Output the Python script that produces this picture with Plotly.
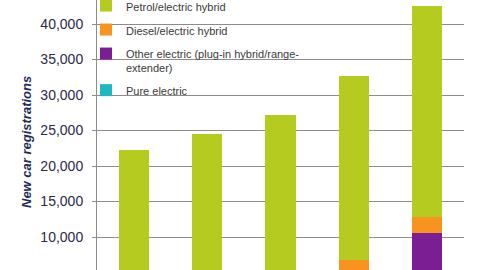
import plotly.graph_objects as go

years = ["2010", "2011", "2012", "2013", "2014"]
pure_electric = [100, 1000, 1200, 2500, 4000]
other_electric = [50, 200, 700, 1300, 6500]
diesel_hybrid = [0, 0, 400, 3000, 2300]
petrol_hybrid = [22150, 23300, 24900, 25900, 29700]

series_names = [
    "Pure electric",
    "Other electric (plug-in hybrid/range-<br>extender)",
    "Diesel/electric hybrid",
    "Petrol/electric hybrid",
]
series_values = [pure_electric, other_electric, diesel_hybrid, petrol_hybrid]
series_colors = ["#1FB8C2", "#7B1E93", "#F7931E", "#B5CB1F"]
legend_ranks = [4, 3, 2, 1]
y_title = "New car registrations"

fig = go.Figure()
for i, (name, vals, col) in enumerate(zip(series_names, series_values, series_colors)):
    fig.add_trace(go.Bar(
        x=years, y=vals, name=name, marker_color=col, marker_line_width=0,
        legendgroup=f"g{i}", legendrank=legend_ranks[i],
    ))

fig.update_layout(
    barmode="stack",
    bargap=0.59,
    width=486, height=270,
    margin=dict(l=97, r=22, t=0, b=0, autoexpand=False),
    paper_bgcolor="white", plot_bgcolor="white",
    font=dict(family="Liberation Sans, Arial, sans-serif", color="#2A2A48"),
    legend=dict(
        x=-0.03, y=1.03, xanchor="left", yanchor="top",
        traceorder="grouped", tracegroupgap=5,
        font=dict(size=11, color="#3A3A3A"),
        bgcolor="rgba(0,0,0,0)", valign="top",
        itemwidth=30,
    ),
    xaxis=dict(showticklabels=False, showline=False, ticks="", showgrid=False),
    yaxis=dict(
        range=[5352, 43380],
        tickvals=[5000, 10000, 15000, 20000, 25000, 30000, 35000, 40000],
        tickformat=",",
        tickfont=dict(size=14, color="#2A2A48"),
        showgrid=True, gridcolor="#8C8C8C", gridwidth=1,
        showline=True, linecolor="#8C8C8C", linewidth=1,
        ticks="outside", ticklen=4, tickcolor="#8C8C8C",
        ticklabelstandoff=6,
        zeroline=False,
    ),
    annotations=[dict(
        text=f"<b><i>{y_title}</i></b>", textangle=-90,
        xref="paper", yref="paper", x=-0.1935, y=0.474,
        xanchor="center", yanchor="middle", showarrow=False,
        font=dict(size=13, color="#1F2A5A"),
    )],
)

fig.write_html("out.html")
